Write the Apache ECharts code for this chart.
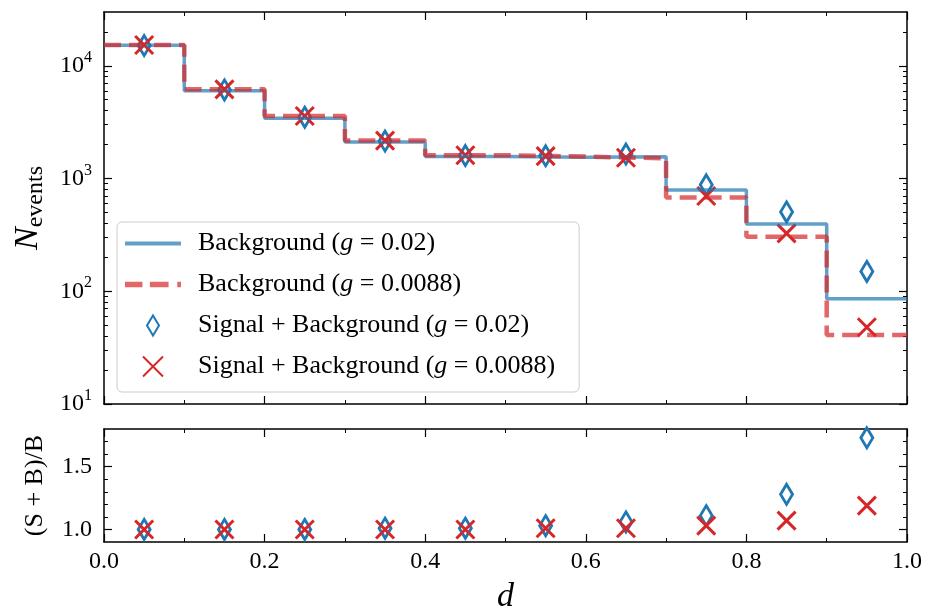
<!DOCTYPE html>
<html>
<head>
<meta charset="utf-8">
<script src="https://cdn.jsdelivr.net/npm/echarts@6/dist/echarts.min.js"></script>
<style>
  html, body { margin: 0; padding: 0; background: #fff; }
  #chart { width: 938px; height: 613px; }
</style>
</head>
<body>
<div id="chart"></div>
<script>
// bins of d
const binEdges = [0, 0.1, 0.2, 0.3, 0.4, 0.5, 0.6, 0.7, 0.8, 0.9, 1.0]
const binCenters = [0.05, 0.15, 0.25, 0.35, 0.45, 0.55, 0.65, 0.75, 0.85, 0.95]

// N_events per bin
const bkgStrong = [15200, 6000, 3420, 2110, 1570, 1545, 1560, 790, 395, 86]   // g = 0.02
const bkgWeak = [15300, 6180, 3590, 2170, 1610, 1565, 1510, 680, 305, 41]     // g = 0.0088
const sbStrong = [15100, 6100, 3500, 2150, 1600, 1590, 1650, 880, 505, 150]
const sbWeak = [15300, 6180, 3590, 2170, 1610, 1580, 1530, 700, 326, 48]

// (S+B)/B
const ratioStrong = [1.00, 1.00, 1.00, 1.01, 1.01, 1.03, 1.06, 1.11, 1.28, 1.73]
const ratioWeak = [1.00, 1.00, 1.00, 1.00, 1.00, 1.01, 1.01, 1.03, 1.07, 1.19]

// ticks
const logMajor = [10, 100, 1000, 10000]
const logMinor = [20, 30, 40, 50, 60, 70, 80, 90, 200, 300, 400, 500, 600, 700, 800, 900,
  2000, 3000, 4000, 5000, 6000, 7000, 8000, 9000, 20000]
const ratioMajor = [1.0, 1.5]
const ratioMinor = [1.1, 1.2, 1.3, 1.4, 1.6, 1.7]

const legendNames = [
  'Background (g = 0.02)',
  'Background (g = 0.0088)',
  'Signal + Background (g = 0.02)',
  'Signal + Background (g = 0.0088)'
]

const FONT = 'Liberation Serif'
const BLUE = '#1f77b4'
const RED = '#d62728'
const BLUE_A = 'rgba(31,119,180,0.7)'
const RED_A = 'rgba(214,39,40,0.7)'
const DIAMOND = 'path://M6,0L12,10L6,20L0,10Z'
const CROSS = 'path://M0,0L10,10M10,0L0,10'
// legend samples for the two step lines
const SOLID_ICON = 'path://M0,0H56V4H0Z'
const DASH_ICON = 'path://M0,0h14v4.5h-14z M20,0h15v4.5h-15z M42,0h3v4.5h-3z'

function stepData (vals) {
  return binEdges.map((x, i) => [x, vals[Math.min(i, vals.length - 1)]])
}
function points (ys) {
  return binCenters.map((x, i) => [x, ys[i]])
}

const frameLine = { show: true, lineStyle: { color: '#000', width: 1.5 } }

function xAxisFor (gridIndex, position, showLabel) {
  return {
    type: 'value',
    gridIndex: gridIndex,
    position: position,
    min: 0,
    max: 1,
    interval: 0.2,
    axisLine: frameLine,
    axisTick: { show: true, inside: true, length: 8, lineStyle: { color: '#000', width: 1.2 } },
    minorTick: { show: true, splitNumber: 2, length: 4, lineStyle: { color: '#000', width: 1 } },
    splitLine: { show: false },
    minorSplitLine: { show: false },
    axisLabel: {
      show: showLabel,
      margin: 8,
      color: '#000',
      fontFamily: FONT,
      fontSize: 24,
      formatter: v => v.toFixed(1)
    }
  }
}

function logAxis (position, ticks, len, major) {
  return {
    type: 'log',
    logBase: 10,
    gridIndex: 0,
    position: position,
    min: 10,
    max: 30000,
    axisLine: major ? frameLine : { show: false },
    axisTick: { show: true, inside: true, length: len, customValues: ticks, lineStyle: { color: '#000', width: major ? 1.2 : 1 } },
    splitLine: { show: false },
    axisLabel: { show: false }
  }
}

function ratioAxis (position, ticks, len, major) {
  return {
    type: 'value',
    gridIndex: 1,
    position: position,
    min: 0.9,
    max: 1.8,
    axisLine: major ? frameLine : { show: false },
    axisTick: { show: true, inside: true, length: len, customValues: ticks, lineStyle: { color: '#000', width: major ? 1.2 : 1 } },
    splitLine: { show: false },
    axisLabel: { show: false }
  }
}

const yTopMain = logAxis('left', logMajor, 8, true)
yTopMain.axisLabel = {
  show: true,
  customValues: logMajor,
  margin: 12,
  color: '#000',
  fontFamily: FONT,
  formatter: v => '{b|10}{e|' + Math.round(Math.log10(v)) + '}',
  rich: {
    b: { fontFamily: FONT, fontSize: 24, lineHeight: 32, color: '#000' },
    e: { fontFamily: FONT, fontSize: 16, lineHeight: 16, verticalAlign: 'top', color: '#000' }
  }
}
yTopMain.name = '{n|N}{s|events}'
yTopMain.nameLocation = 'middle'
yTopMain.nameGap = 56
yTopMain.nameTextStyle = {
  rich: {
    n: { fontFamily: FONT, fontStyle: 'italic', fontSize: 34, lineHeight: 40, color: '#000' },
    s: { fontFamily: FONT, fontSize: 24, lineHeight: 24, verticalAlign: 'bottom', color: '#000' }
  }
}

const yBotMain = ratioAxis('left', ratioMajor, 8, true)
yBotMain.axisLabel = {
  show: true,
  customValues: ratioMajor,
  margin: 12,
  color: '#000',
  fontFamily: FONT,
  fontSize: 24,
  formatter: v => v.toFixed(1)
}
yBotMain.name = '(S + B)/B'
yBotMain.nameLocation = 'middle'
yBotMain.nameGap = 56
yBotMain.nameTextStyle = { fontFamily: FONT, fontSize: 26, color: '#000' }

const xBotMain = xAxisFor(1, 'bottom', true)
xBotMain.name = 'd'
xBotMain.nameLocation = 'middle'
xBotMain.nameGap = 38
xBotMain.nameTextStyle = { fontFamily: FONT, fontStyle: 'italic', fontSize: 34, color: '#000' }

const option = {
  animation: false,
  backgroundColor: '#fff',
  grid: [
    { left: 104, right: 31, top: 12, height: 392, outerBoundsMode: 'none' },
    { left: 104, right: 31, top: 429, height: 113, outerBoundsMode: 'none' }
  ],
  legend: {
    data: [
      { name: legendNames[0], icon: SOLID_ICON, itemStyle: { color: BLUE_A, borderWidth: 0 } },
      { name: legendNames[1], icon: DASH_ICON, itemStyle: { color: RED_A, borderWidth: 0 } },
      { name: legendNames[2], icon: DIAMOND },
      { name: legendNames[3], icon: CROSS }
    ],
    orient: 'vertical',
    left: 117,
    top: 222,
    itemWidth: 56,
    itemHeight: 20,
    itemGap: 14,
    padding: [8, 24, 12, 8],
    backgroundColor: 'rgba(255,255,255,0.8)',
    borderColor: '#cccccc',
    borderWidth: 1,
    borderRadius: 5,
    symbolKeepAspect: true,
    formatter: name => name.replace('(g', '({i|g}'),
    textStyle: {
      fontFamily: FONT,
      fontSize: 26,
      lineHeight: 27,
      color: '#000',
      padding: [0, 0, 0, 12],
      rich: {
        i: { fontFamily: FONT, fontStyle: 'italic', fontSize: 26, color: '#000' }
      }
    }
  },
  xAxis: [
    xAxisFor(0, 'bottom', false),
    xAxisFor(0, 'top', false),
    xBotMain,
    xAxisFor(1, 'top', false)
  ],
  yAxis: [
    yTopMain,
    logAxis('left', logMinor, 4, false),
    logAxis('right', logMajor, 8, true),
    logAxis('right', logMinor, 4, false),
    yBotMain,
    ratioAxis('left', ratioMinor, 4, false),
    ratioAxis('right', ratioMajor, 8, true),
    ratioAxis('right', ratioMinor, 4, false)
  ],
  series: [
    {
      name: legendNames[0],
      type: 'line',
      step: 'end',
      xAxisIndex: 0,
      yAxisIndex: 0,
      symbol: 'none',
      color: BLUE_A,
      lineStyle: { color: BLUE_A, width: 3.5 },
      data: stepData(bkgStrong)
    },
    {
      name: legendNames[1],
      type: 'line',
      step: 'end',
      xAxisIndex: 0,
      yAxisIndex: 0,
      symbol: 'none',
      color: RED_A,
      lineStyle: { color: RED_A, width: 4.5, type: [17, 8] },
      data: stepData(bkgWeak)
    },
    {
      name: legendNames[2],
      type: 'scatter',
      xAxisIndex: 0,
      yAxisIndex: 0,
      symbol: DIAMOND,
      symbolSize: [12, 20],
      itemStyle: { color: 'rgba(0,0,0,0)', borderColor: BLUE, borderWidth: 3, opacity: 1 },
      data: points(sbStrong)
    },
    {
      name: legendNames[3],
      type: 'scatter',
      xAxisIndex: 0,
      yAxisIndex: 0,
      symbol: CROSS,
      symbolSize: 18,
      itemStyle: { color: 'rgba(0,0,0,0)', borderColor: RED, borderWidth: 3, opacity: 1 },
      data: points(sbWeak)
    },
    // lower panel
    {
      name: 'ratio 0.02',
      type: 'scatter',
      xAxisIndex: 2,
      yAxisIndex: 4,
      symbol: DIAMOND,
      symbolSize: [12, 20],
      itemStyle: { color: 'rgba(0,0,0,0)', borderColor: BLUE, borderWidth: 3, opacity: 1 },
      data: points(ratioStrong)
    },
    {
      name: 'ratio 0.0088',
      type: 'scatter',
      xAxisIndex: 2,
      yAxisIndex: 4,
      symbol: CROSS,
      symbolSize: 18,
      itemStyle: { color: 'rgba(0,0,0,0)', borderColor: RED, borderWidth: 3, opacity: 1 },
      data: points(ratioWeak)
    }
  ]
}

const myChart = echarts.init(document.getElementById('chart'), null, { renderer: 'canvas' })
myChart.setOption(option)
</script>
</body>
</html>
